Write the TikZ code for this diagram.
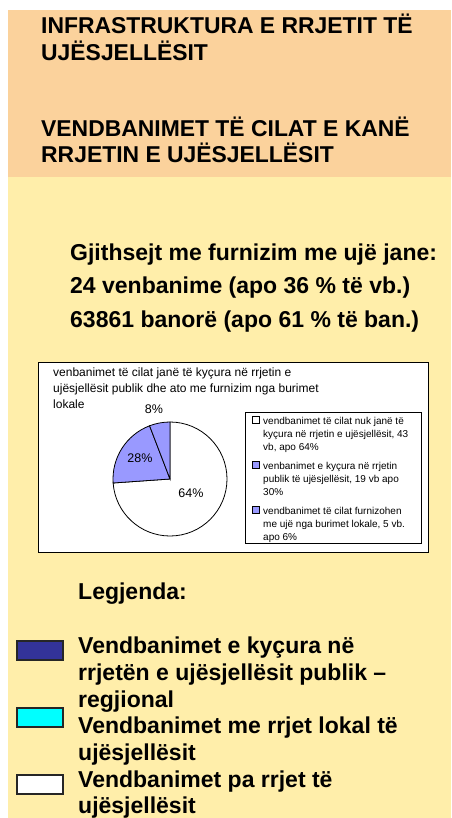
\documentclass[tikz,border=0pt]{standalone}
\usepackage{fontspec}
\setmainfont{Liberation Sans}
\definecolor{bgorange}{HTML}{FBD29C}
\definecolor{bgyellow}{HTML}{FFEEAA}
\definecolor{pieblue}{HTML}{9999FF}
\definecolor{darkblue}{HTML}{333399}
\definecolor{cyanbox}{HTML}{00FFFF}
\tikzset{
  head/.style={anchor=base west, inner sep=0pt, font=\fontsize{22.9}{26}\selectfont\bfseries},
  big/.style={anchor=base west, inner sep=0pt, font=\fontsize{23}{27}\selectfont\bfseries},
  ctitle/.style={anchor=base west, inner sep=0pt, font=\fontsize{12}{15}\selectfont},
  clab/.style={anchor=center, inner sep=0pt, font=\fontsize{12.5}{15}\selectfont},
  cleg/.style={anchor=base west, inner sep=0pt, font=\fontsize{10}{13}\selectfont},
  frame/.style={draw=black, line width=0.9pt},
  mark box/.style={draw=black, line width=0.7pt},
  legbox/.style={draw=black!85, line width=1.6pt},
}
\begin{document}
\begin{tikzpicture}[x=1pt,y=-1pt]
\useasboundingbox (0,0) rectangle (451,818);
\fill[white] (0,0) rectangle (451,818);
\fill[bgorange] (8,10) rectangle (451,177);
\fill[bgyellow] (8,177) rectangle (451,818);
% headings
\node[head] (h1) at (41,34) {INFRASTRUKTURA E RRJETIT TË};
\node[head] (h2) at (41,61) {UJËSJELLËSIT};
\node[head] (h3) at (41,137) {VENDBANIMET TË CILAT E KANË};
\node[head] (h4) at (41,163) {RRJETIN E UJËSJELLËSIT};
% totals
\node[big] (g1) at (70,260) {Gjithsejt me furnizim me ujë jane:};
\node[big] (g2) at (70,293) {24 venbanime (apo 36 \% të vb.)};
\node[big] (g3) at (70,327) {63861 banorë (apo 61 \% të ban.)};
% chart frame
\draw[frame, fill=white] (38,362) rectangle (428,552);
\node[ctitle] (t1) at (53,376) {venbanimet të cilat janë të kyçura në rrjetin e};
\node[ctitle] (t2) at (53,392) {ujësjellësit publik dhe ato me furnizim nga burimet};
\node[ctitle] (t3) at (53,408) {lokale};
% pie
\coordinate (pc) at (170,479);
\filldraw[fill=white, draw=black, line width=0.8pt] (pc) -- ++(-90:57) arc[start angle=-90, end angle=176, radius=57] -- cycle;
\filldraw[fill=pieblue, draw=black, line width=0.8pt] (pc) -- ++(176:57) arc[start angle=176, end angle=249, radius=57] -- cycle;
\filldraw[fill=pieblue, draw=black, line width=0.8pt] (pc) -- ++(249:57) arc[start angle=249, end angle=270, radius=57] -- cycle;
\node[clab] (p8) at (154,409) {8\%};
\node[clab] (p28) at (140,458) {28\%};
\node[clab] (p64) at (191,493) {64\%};
% chart legend
\draw[frame, fill=white] (245,412) rectangle (421,543);
\draw[mark box, fill=white] (252.5,416.5) rectangle (259,423);
\draw[mark box, fill=pieblue] (252.5,461.5) rectangle (259,468);
\draw[mark box, fill=pieblue] (252.5,506.5) rectangle (259,513);
\node[cleg] (l1a) at (263,424) {vendbanimet të cilat nuk janë të};
\node[cleg] (l1b) at (263,437) {kyçura në rrjetin e ujësjellësit, 43};
\node[cleg] (l1c) at (263,450) {vb, apo 64\%};
\node[cleg] (l2a) at (263,469) {venbanimet e kyçura në rrjetin};
\node[cleg] (l2b) at (263,482) {publik të ujësjellësit, 19 vb apo};
\node[cleg] (l2c) at (263,495) {30\%};
\node[cleg] (l3a) at (263,514) {vendbanimet të cilat furnizohen};
\node[cleg] (l3b) at (263,527) {me ujë nga burimet lokale, 5 vb.};
\node[cleg] (l3c) at (263,540) {apo 6\%};
% legend
\node[big] (lg) at (78,599) {Legjenda:};
\draw[legbox, fill=darkblue] (17,641) rectangle (63,660);
\draw[legbox, fill=cyanbox] (17,708) rectangle (63,727);
\draw[legbox, fill=white] (17,775) rectangle (63,794);
\node[big] (e1a) at (78,653) {Vendbanimet e kyçura në};
\node[big] (e1b) at (78,680) {rrjetën e ujësjellësit publik –};
\node[big] (e1c) at (78,707) {regjional};
\node[big] (e2a) at (78,733) {Vendbanimet me rrjet lokal të};
\node[big] (e2b) at (78,760) {ujësjellësit};
\node[big] (e3a) at (78,787) {Vendbanimet pa rrjet të};
\node[big] (e3b) at (78,813) {ujësjellësit};
\end{tikzpicture}
\end{document}
